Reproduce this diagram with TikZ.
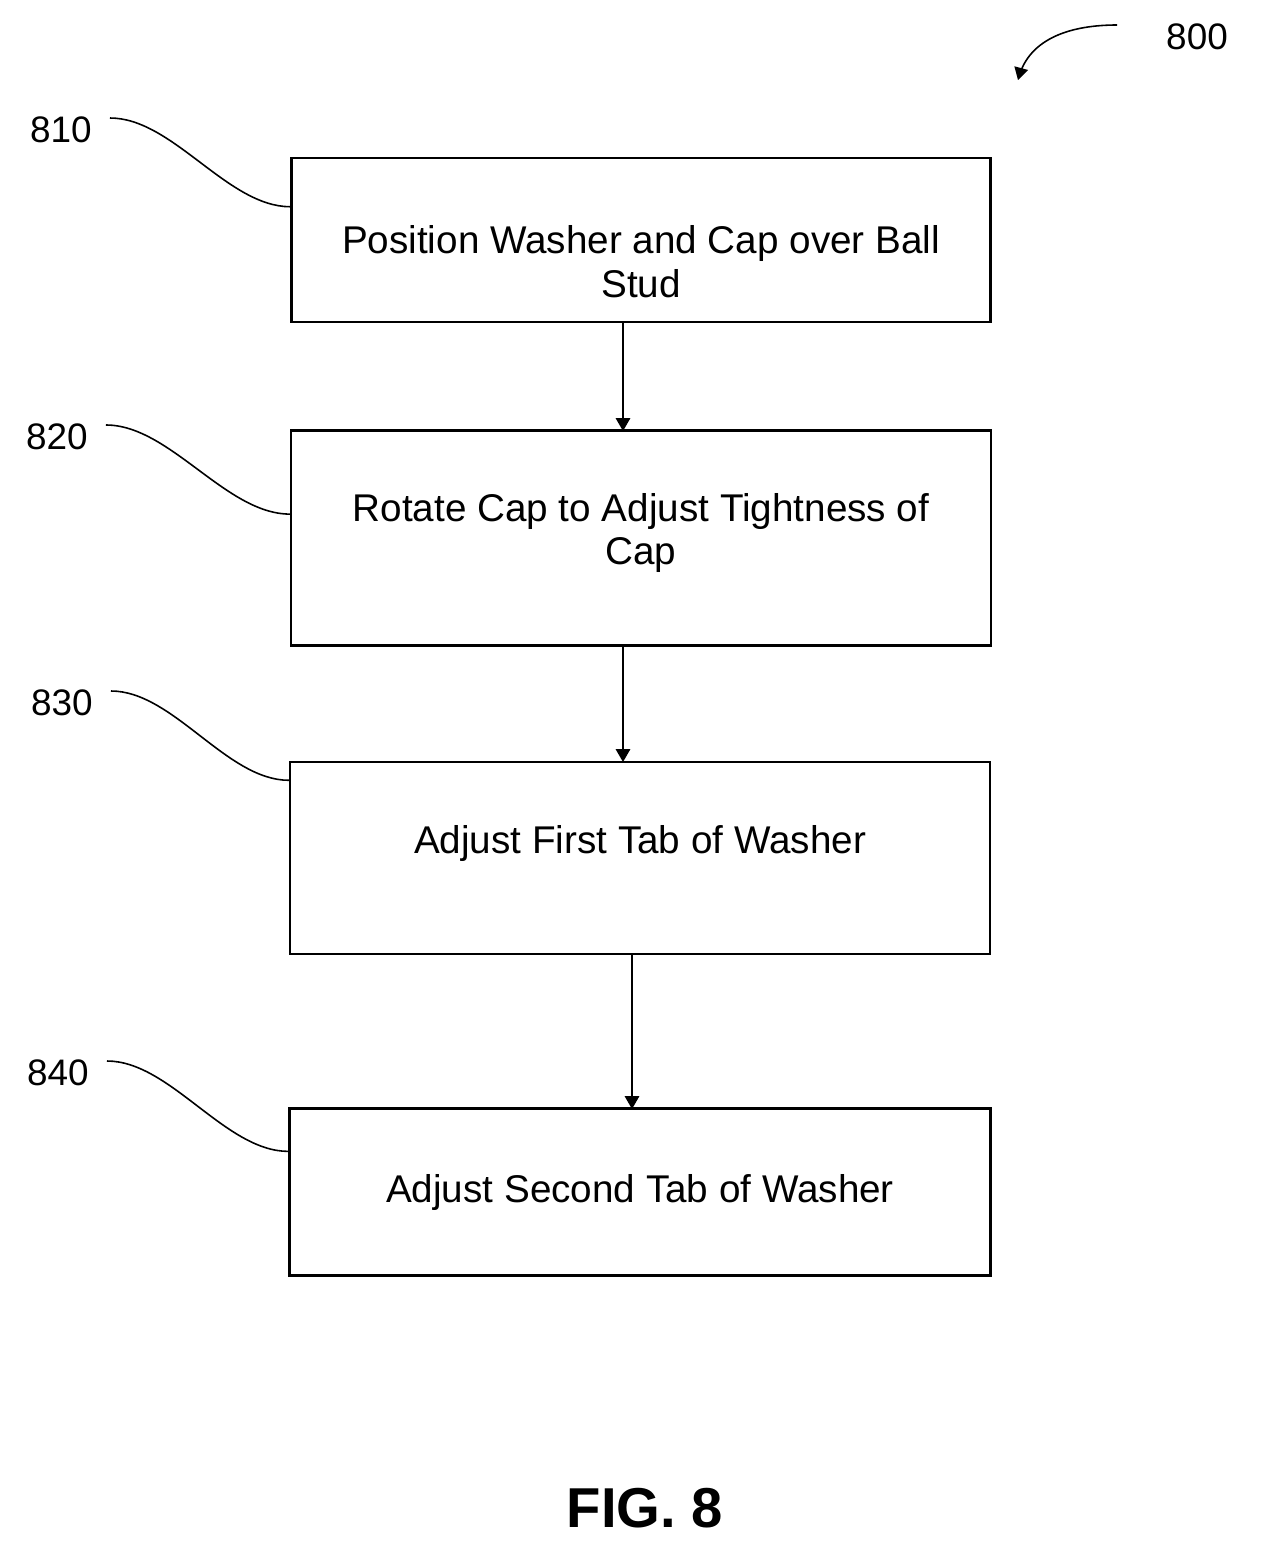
\documentclass[tikz,border=0pt]{standalone}
\usepackage{fontspec}
\setmainfont{Liberation Sans}
\usetikzlibrary{arrows,calc}
\tikzset{every scope/.style={>=triangle 60}}
\tikzset{stepbox/.style={draw, line width=1.3pt, align=center, font=\fontsize{22}{25}\selectfont, inner sep=0pt},
  refnum/.style={font=\fontsize{21}{24}\selectfont, anchor=center},
  leader/.style={line width=0.9pt}}
\begin{document}
\begin{tikzpicture}[x=0.02cm,y=-0.02cm]
  \useasboundingbox (0,0) rectangle (1287,1548);

  % process steps
  \node[stepbox, minimum width=699*0.02cm, minimum height=164*0.02cm] (position) at (641,240) {};
  \node[stepbox, minimum width=700*0.02cm, minimum height=215*0.02cm] (rotate)   at (641,538) {};
  \node[stepbox, minimum width=700*0.02cm, minimum height=192*0.02cm] (first)    at (640,858) {};
  \node[stepbox, minimum width=701*0.02cm, minimum height=167*0.02cm] (second)   at (640,1192) {};
  \node[stepbox, draw=none] (position_t) at (641,262) {Position Washer and Cap over Ball\\Stud};
  \node[stepbox, draw=none] (rotate_t)   at (641,533) {Rotate Cap to Adjust Tightness of\\Cap};
  \node[stepbox, draw=none] (first_t)    at (640,843) {Adjust First Tab of Washer};
  \node[stepbox, draw=none] (second_t)   at (640,1192) {Adjust Second Tab of Washer};

  \draw[->, line width=1pt] (623,322) -- (623,431);
  \draw[->, line width=1pt] (623,646) -- (623,762);
  \draw[->, line width=1pt] (632,954) -- (632,1109);

  % reference numerals
  \node[refnum] (n810) at (61,130)  {810};
  \node[refnum] (n820) at (57,437)  {820};
  \node[refnum] (n830) at (62,703)  {830};
  \node[refnum] (n840) at (58,1073) {840};
  \draw[leader] ($(n810.east)+(12,-12)$) to[out=0,in=180,looseness=0.8] ($(position.north west)!0.3!(position.south west)$);
  \draw[leader] ($(n820.east)+(12,-12)$) to[out=0,in=180,looseness=0.8] ($(rotate.north west)!0.39!(rotate.south west)$);
  \draw[leader] ($(n830.east)+(12,-12)$) to[out=0,in=180,looseness=0.8] ($(first.north west)!0.1!(first.south west)$);
  \draw[leader] ($(n840.east)+(12,-12)$) to[out=0,in=180,looseness=0.8] ($(second.north west)!0.26!(second.south west)$);

  \node[refnum] (n800) at (1197,37) {800};
  \draw[->, leader] (1117,25) to[out=180,in=75] (1018,80);

  \node[font=\fontsize{32}{36}\selectfont\bfseries] (fig) at (645,1508) {FIG. 8};
\end{tikzpicture}
\end{document}
